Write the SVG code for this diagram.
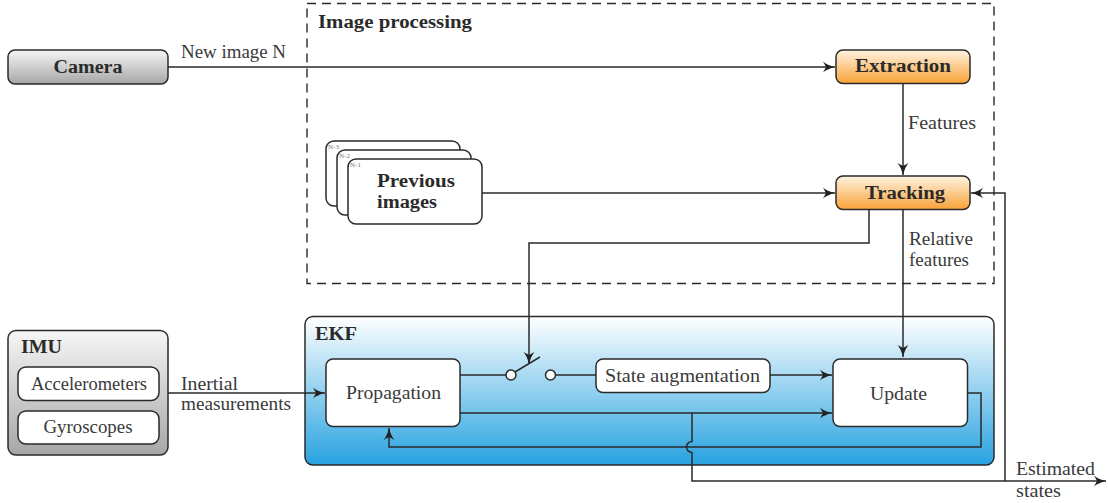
<svg xmlns="http://www.w3.org/2000/svg" width="1108" height="503" viewBox="0 0 1108 503">
  <defs>
    <linearGradient id="gGray" x1="0" y1="0" x2="0" y2="1">
      <stop offset="0" stop-color="#f6f6f6"/>
      <stop offset="1" stop-color="#a6a6a6"/>
    </linearGradient>
    <linearGradient id="gOrange" x1="0" y1="0" x2="0" y2="1">
      <stop offset="0" stop-color="#fff3e2"/>
      <stop offset="1" stop-color="#f8a236"/>
    </linearGradient>
    <linearGradient id="gBlue" x1="0" y1="0" x2="0" y2="1">
      <stop offset="0" stop-color="#ffffff"/>
      <stop offset="1" stop-color="#27a2e0"/>
    </linearGradient>
    <marker id="arr" markerUnits="userSpaceOnUse" markerWidth="14" markerHeight="12" refX="12" refY="6" orient="auto">
      <path d="M0,0.5 Q4,4 12,6 Q4,8 0,11.5 L3,6 Z" fill="#222"/>
    </marker>
  </defs>
  <style>
    .box { stroke: #2a2a2a; stroke-width: 1.5; }
    .white { fill: #ffffff; }
    .line { fill: none; stroke: #2a2a2a; stroke-width: 1.5; }
    .arrow { marker-end: url(#arr); }
    text { font-family: 'Liberation Serif', 'Times New Roman', serif; }
    .t { font-size: 18px; font-weight: normal; fill: #3a3a3a; }
    .b { font-weight: bold; fill: #2a2a2a; }
    .mid { text-anchor: middle; }
    .tiny { font-size: 7px; fill: #777; }
  </style>

  <!-- image processing frame -->
  <g id="image-processing">
    <rect x="307" y="3.5" width="687" height="280" fill="none" stroke="#2a2a2a" stroke-width="1.4" stroke-dasharray="9,6"/>
    <text class="t b" x="318" y="28" textLength="154" lengthAdjust="spacingAndGlyphs">Image processing</text>
  </g>

  <!-- EKF frame -->
  <g id="ekf">
    <rect class="box" x="305" y="316.5" width="689" height="148.5" rx="8" fill="url(#gBlue)"/>
    <text class="t b" x="315" y="340" textLength="42" lengthAdjust="spacingAndGlyphs">EKF</text>
  </g>

  <!-- connectors -->
  <g id="connectors">
    <path class="line arrow" d="M168,67 H835"/>
    <path class="line arrow" d="M903,84 V175"/>
    <path class="line arrow" d="M482,193 H835"/>
    <path class="line arrow" d="M869,210 V243 H529 V364"/>
    <path class="line arrow" d="M903,210 V357"/>
    <path class="line arrow" d="M1005,481 V193 H971"/>
    <path class="line arrow" d="M168,393 H325"/>
    <path class="line" d="M460,375 H506"/>
    <circle cx="511" cy="375" r="5" fill="#fff" stroke="#2a2a2a" stroke-width="1.5"/>
    <path class="line" d="M515,372 L540,357"/>
    <circle cx="550.5" cy="375" r="5" fill="#fff" stroke="#2a2a2a" stroke-width="1.5"/>
    <path class="line" d="M555.5,375 H596"/>
    <path class="line arrow" d="M770,375 H832"/>
    <path class="line arrow" d="M460,413 H832"/>
    <path class="line arrow" d="M968,393 H981 V447 H389 V428"/>
    <path class="line arrow" d="M692,413 V441.5 A5.5,5.5 0 0 0 692,452.5 V481 H1106"/>
    <text class="t" x="181" y="58" textLength="105" lengthAdjust="spacingAndGlyphs">New image N</text>
    <text class="t" x="908" y="129" textLength="68" lengthAdjust="spacingAndGlyphs">Features</text>
    <text class="t" x="909" y="245" textLength="64" lengthAdjust="spacingAndGlyphs">Relative</text>
    <text class="t" x="909" y="266" textLength="60" lengthAdjust="spacingAndGlyphs">features</text>
    <text class="t" x="181" y="390" textLength="57" lengthAdjust="spacingAndGlyphs">Inertial</text>
    <text class="t" x="181" y="410" textLength="110" lengthAdjust="spacingAndGlyphs">measurements</text>
    <text class="t" x="1016" y="475" textLength="79" lengthAdjust="spacingAndGlyphs">Estimated</text>
    <text class="t" x="1016" y="497" textLength="45" lengthAdjust="spacingAndGlyphs">states</text>
  </g>

  <g id="camera">
    <rect class="box" x="8" y="50" width="160" height="34" rx="7" fill="url(#gGray)"/>
    <text class="t b mid" x="88" y="73" textLength="69" lengthAdjust="spacingAndGlyphs">Camera</text>
  </g>

  <g id="extraction">
    <rect class="box" x="836" y="50" width="134" height="33.5" rx="7" fill="url(#gOrange)"/>
    <text class="t b mid" x="903" y="72" textLength="96" lengthAdjust="spacingAndGlyphs">Extraction</text>
  </g>

  <g id="tracking">
    <rect class="box" x="836" y="176" width="134" height="33.5" rx="7" fill="url(#gOrange)"/>
    <text class="t b mid" x="905" y="199" textLength="80" lengthAdjust="spacingAndGlyphs">Tracking</text>
  </g>

  <g id="previous-images">
    <rect class="box white" x="326" y="141" width="134" height="65" rx="8"/>
    <text class="tiny" x="328" y="149">N-3</text>
    <rect class="box white" x="337" y="150" width="134" height="65" rx="8"/>
    <text class="tiny" x="339" y="158">N-2</text>
    <rect class="box white" x="348" y="159" width="134" height="65" rx="8"/>
    <text class="tiny" x="350" y="167">N-1</text>
    <text class="t b" x="377" y="187" textLength="78" lengthAdjust="spacingAndGlyphs">Previous</text>
    <text class="t b" x="377" y="208" textLength="60" lengthAdjust="spacingAndGlyphs">images</text>
  </g>

  <g id="imu">
    <rect class="box" x="8" y="330.5" width="160" height="124.5" rx="8" fill="url(#gGray)"/>
    <text class="t b" x="21" y="353" textLength="41" lengthAdjust="spacingAndGlyphs">IMU</text>
    <g id="accelerometers">
      <rect class="box white" x="18" y="367" width="141" height="33.5" rx="8"/>
      <text class="t mid" x="89" y="390" textLength="116" lengthAdjust="spacingAndGlyphs">Accelerometers</text>
    </g>
    <g id="gyroscopes">
      <rect class="box white" x="18" y="411" width="141" height="33" rx="8"/>
      <text class="t mid" x="88" y="433" textLength="89" lengthAdjust="spacingAndGlyphs">Gyroscopes</text>
    </g>
  </g>

  <g id="propagation">
    <rect class="box white" x="326" y="359" width="134" height="67.5" rx="7"/>
    <text class="t mid" x="393.5" y="399" textLength="95" lengthAdjust="spacingAndGlyphs">Propagation</text>
  </g>

  <g id="state-augmentation">
    <rect class="box white" x="596" y="359" width="174" height="33.5" rx="7"/>
    <text class="t mid" x="682.5" y="382" textLength="155" lengthAdjust="spacingAndGlyphs">State augmentation</text>
  </g>

  <g id="update">
    <rect class="box white" x="833" y="359" width="134.5" height="67.5" rx="7"/>
    <text class="t mid" x="898.5" y="400" textLength="57" lengthAdjust="spacingAndGlyphs">Update</text>
  </g>
</svg>
